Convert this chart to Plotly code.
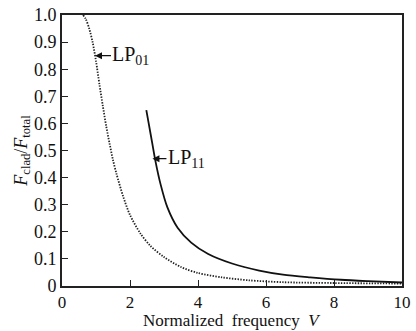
import plotly.graph_objects as go

# LP01 mode (dotted)
V01 = [0.62, 0.7, 0.8, 0.9, 1.0, 1.1, 1.2, 1.3, 1.4, 1.5, 1.6, 1.8, 2.0, 2.3, 2.6, 3.0, 3.5, 4.0, 4.7, 5.5, 6.5, 8.0, 10.0]
F01 = [1.0, 0.985, 0.95, 0.90, 0.83, 0.745, 0.665, 0.59, 0.525, 0.465, 0.415, 0.33, 0.262, 0.195, 0.148, 0.107, 0.070, 0.048, 0.032, 0.021, 0.014, 0.011, 0.009]

# LP11 mode (solid)
V11 = [2.48, 2.55, 2.65, 2.75, 2.9, 3.1, 3.4, 3.8, 4.3, 5.0, 5.8, 6.5, 7.3, 8.2, 9.0, 10.0]
F11 = [0.649, 0.60, 0.53, 0.46, 0.375, 0.29, 0.215, 0.16, 0.118, 0.083, 0.057, 0.042, 0.032, 0.023, 0.018, 0.013]

x_ticks = [0, 2, 4, 6, 8, 10]
y_ticks = [0, 0.1, 0.2, 0.3, 0.4, 0.5, 0.6, 0.7, 0.8, 0.9, 1.0]
y_ticktext = ["0", "0.1", "0.2", "0.3", "0.4", "0.5", "0.6", "0.7", "0.8", "0.9", "1.0"]

FONT = "'Liberation Serif', 'Times New Roman', Times, serif"

fig = go.Figure()
fig.add_trace(go.Scatter(x=V01, y=F01, mode="lines",
                         line=dict(color="#222", width=1.8, dash="1.4px,1.4px", shape="spline", smoothing=0.8),
                         showlegend=False))
fig.add_trace(go.Scatter(x=V11, y=F11, mode="lines",
                         line=dict(color="#111", width=1.8, shape="spline", smoothing=0.8),
                         showlegend=False))

axis_common = dict(showgrid=False, zeroline=False, showline=True, linecolor="#222", linewidth=2,
                   mirror=True, ticks="inside", ticklen=6, tickwidth=1.2, tickcolor="#222",
                   automargin=False)

fig.update_xaxes(range=[0, 10], tickvals=x_ticks, ticklabelstandoff=0,
                 tickfont=dict(family=FONT, size=17, color="#111"), **axis_common)
fig.update_yaxes(range=[0, 1.0], tickvals=y_ticks, ticktext=y_ticktext,
                 tickfont=dict(family=FONT, size=18, color="#111"),
                 title=dict(text="<i>F</i><sub>clad</sub>/<i>F</i><sub>total</sub>",
                            font=dict(family=FONT, size=18, color="#111"), standoff=2), **axis_common)

# x-axis title as paper annotation
fig.add_annotation(x=0.5, y=-0.167, xref="paper", yref="paper", text="Normalized\u00a0 frequency\u00a0 <i>V</i>",
                   showarrow=False, xanchor="center", yanchor="bottom", borderpad=0,
                   font=dict(family=FONT, size=17, color="#111"))

# curve labels with arrows
fig.add_annotation(x=0.97, y=0.85, ax=36, ay=0, axref="pixel", ayref="pixel", text="LP<sub>01</sub>",
                   showarrow=True, arrowhead=2, arrowsize=1, arrowwidth=1.4, arrowcolor="#111",
                   font=dict(family=FONT, size=20, color="#111"))
fig.add_annotation(x=2.66, y=0.47, ax=34, ay=0, axref="pixel", ayref="pixel", text="LP<sub>11</sub>",
                   showarrow=True, arrowhead=2, arrowsize=1, arrowwidth=1.4, arrowcolor="#111",
                   font=dict(family=FONT, size=20, color="#111"))

fig.update_layout(width=416, height=331, margin=dict(l=62, r=14, t=15, b=45),
                  font=dict(family=FONT, size=18, color="#111"),
                  plot_bgcolor="white", paper_bgcolor="white")

fig.write_html("out.html")
